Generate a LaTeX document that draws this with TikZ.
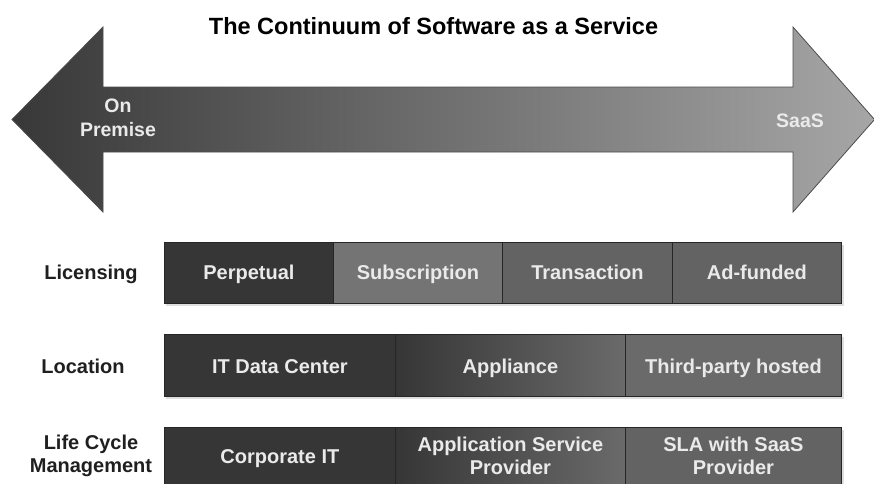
\documentclass[tikz,border=0pt]{standalone}
\usepackage{fontspec}
\setmainfont{Liberation Sans}
\definecolor{dk}{HTML}{363636}
\definecolor{subs}{HTML}{747474}
\definecolor{mid}{HTML}{636363}
\definecolor{midb}{HTML}{6A6A6A}
\definecolor{arrL}{HTML}{383838}
\definecolor{arrM}{HTML}{646464}
\definecolor{arrR}{HTML}{A6A6A6}
\definecolor{txtw}{HTML}{EAEAEA}
\begin{document}
\begin{tikzpicture}[x=1pt,y=-1pt,
  lbl/.style={font=\fontsize{20}{23}\selectfont\bfseries, text=black!88, inner sep=0pt, align=center},
  wlbl/.style={lbl, text=txtw},
  cell/.style={draw=black!85, line width=0.8pt, minimum height=#1, inner sep=0pt, anchor=north west},
  shadowbar/.style={fill=black!13}
]
\useasboundingbox (0,0) rectangle (874,483);
\clip (0,0) rectangle (874,483);

% title
\node[font=\fontsize{23.5}{28}\selectfont\bfseries, inner sep=0pt, anchor=base] (title) at (433.5,34) {The Continuum of Software as a Service};

% continuum arrow
\draw[draw=black!70, line width=0.8pt, left color=arrL, middle color=arrM, right color=arrR]
  (12,119.5) -- (103,27) -- (103,87) -- (793,87) -- (793,27) -- (874.5,119.5)
  -- (793,212) -- (793,152) -- (103,152) -- (103,212) -- cycle;
\node[wlbl, font=\fontsize{19.5}{24}\selectfont\bfseries] (onprem) at (118,117.5) {On\\Premise};
\node[wlbl, font=\fontsize{19.5}{24}\selectfont\bfseries, anchor=base] (saas) at (800,127) {SaaS};

% shadows
\fill[shadowbar] (166,245) rectangle (844,306);
\fill[shadowbar] (166,337) rectangle (844,399);
\fill[shadowbar] (166,430) rectangle (844,492);

% Licensing row
\node[lbl, anchor=base] (lic) at (91,279) {Licensing};
\node[cell=61pt, minimum width=169pt, fill=dk] (perp) at (164,242) {};
\node[cell=61pt, minimum width=169pt, fill=subs] (subsc) at (333,242) {};
\node[cell=61pt, minimum width=170pt, fill=mid] (trans) at (502,242) {};
\node[cell=61pt, minimum width=169pt, fill=mid] (adf) at (672,242) {};
\node[wlbl, anchor=base] (tperp) at (perp.center |- 0,279) {Perpetual};
\node[wlbl, anchor=base] (tsubs) at (subsc.center |- 0,279) {Subscription};
\node[wlbl, anchor=base] (ttrans) at (trans.center |- 0,279) {Transaction};
\node[wlbl, anchor=base] (tadf) at (adf.center |- 0,279) {Ad-funded};

% Location row
\node[lbl, anchor=base] (loc) at (83,373) {Location};
\node[cell=62pt, minimum width=231pt, fill=dk] (itdc) at (164,334) {};
\node[cell=62pt, minimum width=230pt, left color=dk, right color=midb] (appl) at (395,334) {};
\node[cell=62pt, minimum width=216pt, fill=midb] (third) at (625,334) {};
\node[wlbl, anchor=base] (titdc) at (itdc.center |- 0,373) {IT Data Center};
\node[wlbl, anchor=base] (tappl) at (appl.center |- 0,373) {Appliance};
\node[wlbl, anchor=base] (tthird) at (third.center |- 0,373) {Third-party hosted};

% Life cycle management row
\node[lbl] (lcm) at (91,456.3) {Life Cycle\\Management};
\node[cell=62pt, minimum width=231pt, fill=dk] (corp) at (164,427) {};
\node[cell=62pt, minimum width=230pt, left color=dk, right color=midb] (asp) at (395,427) {};
\node[cell=62pt, minimum width=216pt, fill=mid] (sla) at (625,427) {};
\node[wlbl, anchor=base] (tcorp) at (corp.center |- 0,463) {Corporate IT};
\node[wlbl] (tasp) at (asp.center |- 0,456) {Application Service\\Provider};
\node[wlbl] (tsla) at (sla.center |- 0,456) {SLA with SaaS\\Provider};
\end{tikzpicture}
\end{document}
